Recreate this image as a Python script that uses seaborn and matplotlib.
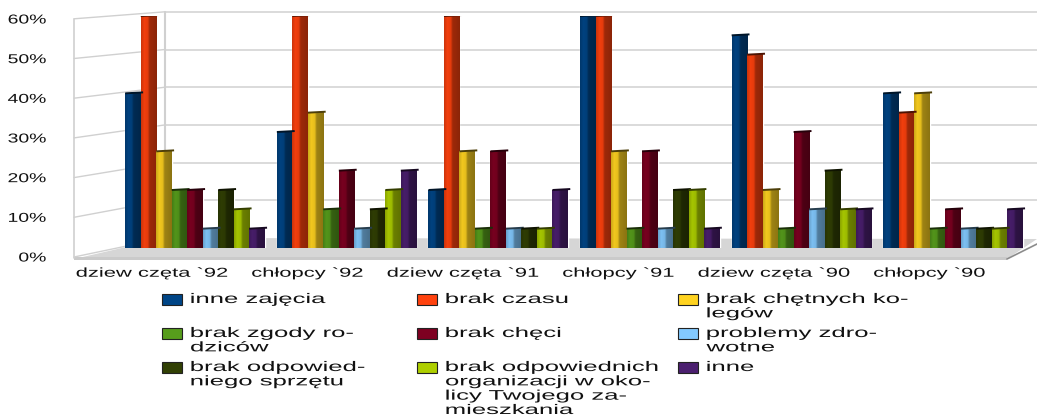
import numpy as np
import pandas as pd
import matplotlib
matplotlib.use("Agg")
import matplotlib.pyplot as plt
import seaborn as sns
from matplotlib.colors import LinearSegmentedColormap, to_rgb
from matplotlib.patches import Polygon, Rectangle
from matplotlib.patheffects import AbstractPathEffect
from matplotlib.transforms import Affine2D

groups = ["dziew częta `92", "chłopcy `92", "dziew częta `91",
          "chłopcy `91", "dziew częta `90", "chłopcy `90"]
inne_zajecia = [40, 30, 15, 60, 55, 40]
brak_czasu = [60, 60, 60, 60, 50, 35]
brak_kolegow = [25, 35, 25, 25, 15, 40]
brak_zgody = [15, 10, 5, 5, 5, 5]
brak_checi = [15, 20, 25, 25, 30, 10]
problemy_zdrowotne = [5, 5, 5, 5, 10, 5]
brak_sprzetu = [15, 10, 5, 15, 20, 5]
brak_organizacji = [10, 15, 5, 15, 10, 5]
inne = [5, 20, 15, 5, 10, 10]

series_values = [inne_zajecia, brak_czasu, brak_kolegow, brak_zgody, brak_checi,
                 problemy_zdrowotne, brak_sprzetu, brak_organizacji, inne]
series_names = ["inne zajęcia", "brak czasu", "brak chętnych ko-\nlegów",
                "brak zgody ro-\ndziców", "brak chęci", "problemy zdro-\nwotne",
                "brak odpowied-\nniego sprzętu",
                "brak odpowiednich\norganizacji w oko-\nlicy Twojego za-\nmieszkania",
                "inne"]
colors = ["#004586", "#ff420e", "#ffd320", "#579d1c", "#7e0021",
          "#83caff", "#314004", "#aecf00", "#4b1f6f"]
y_ticks = [0, 10, 20, 30, 40, 50, 60]

W, H = 1037, 417
sns.set_theme(style="white")
plt.rcParams["font.family"] = ["Liberation Sans", "DejaVu Sans"]


class Stretch(AbstractPathEffect):
    """Widen text horizontally, as in the stretched source picture."""
    def __init__(self, sx, anchor=0.0):
        super().__init__()
        self.sx, self.anchor = sx, anchor

    def draw_path(self, renderer, gc, tpath, affine, rgbFace=None):
        ext = tpath.get_extents(affine)
        x0 = ext.x0 + self.anchor * ext.width
        t = affine + Affine2D().translate(-x0, 0).scale(self.sx, 1).translate(x0, 0)
        renderer.draw_path(gc, tpath, t, rgbFace)


def px_axes(fig, x0, x1, y_top, y_bottom, **kw):
    return fig.add_axes([x0 / W, (H - y_bottom) / H, (x1 - x0) / W, (y_bottom - y_top) / H], **kw)


fig = plt.figure(figsize=(W / 100, H / 100), dpi=100, facecolor="white")

# --- chart walls and floor, in pixel coordinates
bg = px_axes(fig, 0, W, 0, H, zorder=0)
bg.set_xlim(0, W)
bg.set_ylim(H, 0)
bg.set_axis_off()
bg.add_patch(Polygon([(74, 259), (1007, 259), (1037, 239), (165, 238)], closed=True,
                     fc="#d6d6d6", ec="none"))
bg.add_patch(Polygon([(74, 257), (1007, 257), (1007, 260), (74, 260)], closed=True,
                     fc="#cacaca", ec="none"))
bg.plot([1007, 1037], [259, 244], color="#8c8c8c", lw=1.2)
for v in y_ticks:
    yf, yb = 257 - 3.97 * v, 238 - 3.77 * v
    bg.plot([74, 165], [yf, yb], color="#d0d0d0", lw=1)
    if v:
        bg.plot([165, W], [yb, yb], color="#d4d4d4", lw=1.2)
bg.plot([74, 74], [19, 258], color="#d0d0d0", lw=1.2)
bg.plot([165, 165], [12, 238], color="#d0d0d0", lw=1.5)

# --- front axis: tick labels
front = px_axes(fig, 74, 1007, 19, 257, zorder=1)
front.patch.set_alpha(0)
front.set_xlim(-0.5, len(groups) - 0.5)
front.set_ylim(0, 60)
front.set_xticks(range(len(groups)), groups)
front.set_yticks(y_ticks, [f"{v}%" for v in y_ticks])
front.tick_params(length=0, pad=0)
front.tick_params(axis="x", pad=7, labelsize=9.3, labelcolor="#111111")
front.tick_params(axis="y", pad=20, labelsize=9.3, labelcolor="#111111")
for s in front.spines.values():
    s.set_visible(False)
for t in front.get_xticklabels():
    t.set_path_effects([Stretch(1.7, 0.5)])
for t in front.get_yticklabels():
    t.set_path_effects([Stretch(1.5, 1.0)])

# --- bars
df = pd.DataFrame({
    "grupa": np.repeat(groups, len(series_names)),
    "seria": series_names * len(groups),
    "wartosc": np.array(series_values).T.ravel(),
})
ax = px_axes(fig, 119.2, 1028.8, 16, 248, zorder=2)
ax.patch.set_alpha(0)
sns.barplot(data=df, x="grupa", y="wartosc", hue="seria", hue_order=series_names,
            order=groups, palette=colors, saturation=1, width=0.92, gap=0,
            legend=False, ax=ax)
xlim, ylim = (-0.5, len(groups) - 0.5), (0, 60)
stops = [(0.0, 0.80), (0.2, 0.95), (0.42, 0.9), (0.55, 0.62), (1.0, 0.55)]
for p in list(ax.patches):
    c = np.array(to_rgb(p.get_facecolor()))
    cm = LinearSegmentedColormap.from_list("b", [(s, tuple(c * f)) for s, f in stops])
    x0, w, h = p.get_x(), p.get_width(), p.get_height()
    ax.imshow(np.linspace(0, 1, 32)[None, :], cmap=cm, vmin=0, vmax=1, aspect="auto",
              extent=(x0, x0 + w, 0, h), zorder=3)
    ax.plot([x0, x0 + w * 1.15], [h, h + 0.25], color=tuple(c * 0.3), lw=1.4,
            zorder=4, solid_capstyle="butt")
ax.set_xlim(*xlim)
ax.set_ylim(*ylim)
ax.set_axis_off()

# --- legend
lg = px_axes(fig, 0, W, 0, H, zorder=3)
lg.patch.set_alpha(0)
lg.set_xlim(0, W)
lg.set_ylim(H, 0)
lg.set_axis_off()
col_x = [162, 417, 678]
row_y = [299, 333, 367]
for i, (name, col) in enumerate(zip(series_names, colors)):
    x, y = col_x[i % 3], row_y[i // 3]
    lg.add_patch(Rectangle((x, y - 5.5), 20, 11, fc=col, ec="#222222", lw=0.8))
    lg.text(x + 28.5, y - 7, name, va="top", ha="left", fontsize=10, color="#111111",
            linespacing=1.03, path_effects=[Stretch(1.85, 0.0)])

fig.savefig("out.png", dpi=100)
